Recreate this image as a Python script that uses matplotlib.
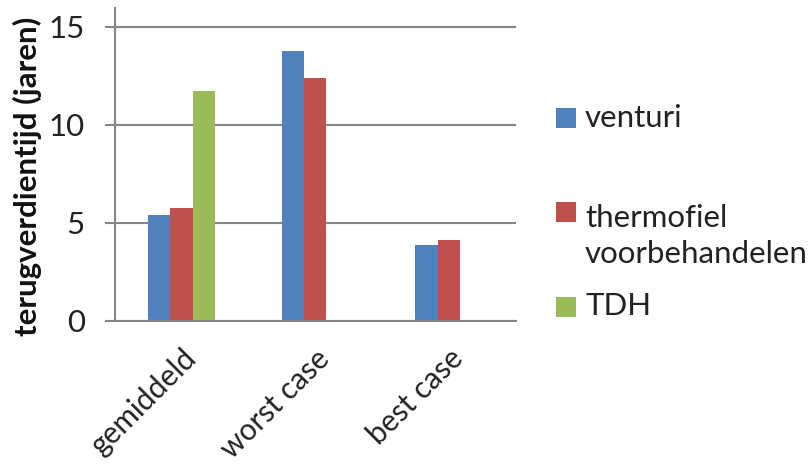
import matplotlib
matplotlib.use("Agg")
import matplotlib.pyplot as plt
from matplotlib.patches import Rectangle
import numpy as np

categories = ["gemiddeld", "worst case", "best case"]
series_names = ["venturi", "thermofiel\nvoorbehandelen", "TDH"]
venturi = [5.4, 13.75, 3.85]
thermofiel = [5.77, 12.4, 4.13]
tdh = [11.7, 0.0, 0.0]
y_ticks = [0, 5, 10, 15]

colors = ["#4F81BD", "#C0504D", "#9BBB59"]
font = "Lato"
plt.rcParams["font.family"] = [font, "DejaVu Sans"]
fs = 22.5

W, H = 810, 468
fig = plt.figure(figsize=(W / 100, H / 100), dpi=100)
ax = fig.add_axes([114.7 / W, 1 - 320.7 / H, (515.7 - 114.7) / W, (320.7 - 8) / H])

x = np.arange(len(categories))
bw = 0.168
values = [venturi, thermofiel, tdh]
for i, (vals, col) in enumerate(zip(values, colors)):
    ax.bar(x + (i - 1) * bw, vals, width=bw, color=col, zorder=3)

ax.set_xlim(-0.5, len(categories) - 0.5)
ax.set_ylim(0, 15.95)
ax.set_yticks(y_ticks)
ax.set_yticklabels([str(t) for t in y_ticks], fontsize=fs, color="#222222")
ax.yaxis.grid(True, color="#868686", linewidth=1.5, zorder=0)
ax.set_axisbelow(True)

for side in ["top", "right"]:
    ax.spines[side].set_visible(False)
ax.spines["left"].set_color("#868686")
ax.spines["left"].set_linewidth(1.5)
ax.spines["bottom"].set_color("#868686")
ax.spines["bottom"].set_linewidth(1.5)
ax.spines["bottom"].set_zorder(4)
ax.tick_params(axis="y", length=7.5, width=1.5, color="#868686", pad=14)
ax.tick_params(axis="x", length=0, pad=17)

ax.set_xticks(x)
ax.set_xticklabels(categories, rotation=45, ha="right", va="top",
                   rotation_mode="anchor", fontsize=21.5, color="#222222")

fig.text(27 / W, 1 - 176 / H, "terugverdientijd (jaren)", rotation=90,
         ha="center", va="center", fontsize=fs, fontweight="bold", color="#111111")

# legend drawn in figure pixels: (square top, baseline of last text line)
legend_rows = [(107.7, 126.7), (202, 262.7), (296.7, 315)]
for (sq_top, baseline), name, col in zip(legend_rows, series_names, colors):
    fig.patches.append(Rectangle((556 / W, 1 - (sq_top + 20) / H), 20 / W, 20 / H,
                                 transform=fig.transFigure, facecolor=col,
                                 edgecolor="none"))
    fig.text(585 / W, 1 - baseline / H, name, ha="left", va="baseline",
             fontsize=fs, color="#222222", linespacing=1.32)

fig.savefig("out.png", dpi=100)
